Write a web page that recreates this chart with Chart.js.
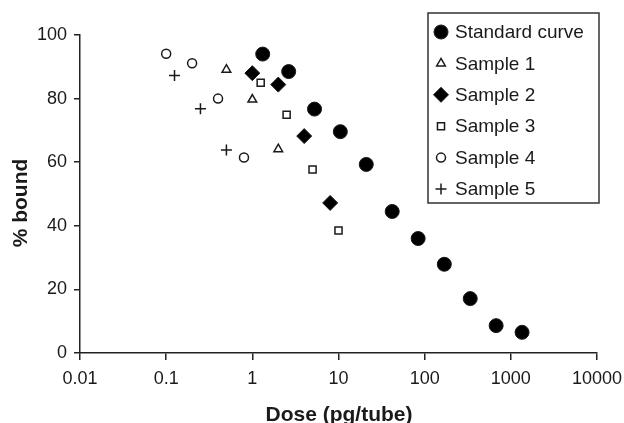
<!DOCTYPE html>
<html>
<head>
<meta charset="utf-8">
<script src="https://cdn.jsdelivr.net/npm/chart.js@4.4.1/dist/chart.umd.min.js"></script>
<style>
  html, body { margin: 0; padding: 0; background: #fff; }
  #wrap { width: 624px; height: 423px; }
</style>
</head>
<body>
<div id="wrap"><canvas id="chart" width="624" height="423"></canvas></div>
<script>
// Values
const seriesLabels = ["Standard curve", "Sample 1", "Sample 2", "Sample 3", "Sample 4", "Sample 5"];

const standardDose = [1.32, 2.64, 5.27, 10.5, 21, 42, 84, 169, 338, 675, 1350];
const standardBound = [94, 88.5, 76.7, 69.6, 59.3, 44.5, 36, 27.9, 17.1, 8.6, 6.5];

const sample1Dose = [0.5, 1, 2];
const sample1Bound = [89.1, 79.7, 64.1];

const sample2Dose = [1, 2, 4, 8];
const sample2Bound = [88, 84.4, 68.2, 47.2];

const sample3Dose = [1.25, 2.5, 5, 10];
const sample3Bound = [85, 74.9, 57.7, 38.5];

const sample4Dose = [0.1, 0.2, 0.4, 0.8];
const sample4Bound = [94.1, 91.1, 80, 61.5];

const sample5Dose = [0.125, 0.25, 0.5];
const sample5Bound = [87.3, 76.8, 63.8];

const xTicks = [0.01, 0.1, 1, 10, 100, 1000, 10000];
const xTickLabels = ["0.01", "0.1", "1", "10", "100", "1000", "10000"];
const yTicks = [0, 20, 40, 60, 80, 100];

const fontFamily = "'Liberation Sans', Arial, Helvetica, sans-serif";
const ink = "#1a1a1a";

function toPoints(xs, ys) {
    return xs.map((x, i) => ({ x: x, y: ys[i] }));
}

function makeDataset(label, xs, ys, style, radius, fill, borderWidth) {
    return {
        label: label,
        data: toPoints(xs, ys),
        pointStyle: style,
        pointRadius: radius,
        pointHoverRadius: radius,
        pointBackgroundColor: fill,
        pointBorderColor: ink,
        pointBorderWidth: borderWidth,
        showLine: false,
    };
}

const datasets = [
    makeDataset(seriesLabels[0], standardDose, standardBound, "circle", 7, "#000", 1),
    makeDataset(seriesLabels[1], sample1Dose, sample1Bound, "triangle", 5, "#fff", 1.5),
    makeDataset(seriesLabels[2], sample2Dose, sample2Bound, "rectRot", 7.5, "#000", 1),
    makeDataset(seriesLabels[3], sample3Dose, sample3Bound, "rect", 5, "#fff", 1.5),
    makeDataset(seriesLabels[4], sample4Dose, sample4Bound, "circle", 4.5, "#fff", 1.5),
    makeDataset(seriesLabels[5], sample5Dose, sample5Bound, "cross", 5.5, "#fff", 1.5),
];

// Axis titles and the boxed legend inside the plot
const annotations = {
    id: "annotations",
    afterDraw(chart) {
        const ctx = chart.ctx;
        ctx.save();
        ctx.fillStyle = ink;
        ctx.font = "bold 21px " + fontFamily;
        ctx.textAlign = "center";
        ctx.textBaseline = "alphabetic";
        ctx.fillText("Dose (pg/tube)", 339, 421);

        ctx.save();
        ctx.translate(27, 203);
        ctx.rotate(-Math.PI / 2);
        ctx.fillText("% bound", 0, 0);
        ctx.restore();

        // legend box
        ctx.strokeStyle = "#333";
        ctx.lineWidth = 1.5;
        ctx.strokeRect(428, 13, 171, 190);

        ctx.font = "19px " + fontFamily;
        ctx.textAlign = "left";
        ctx.textBaseline = "middle";
        chart.data.datasets.forEach((ds, i) => {
            const y = 32 + i * 31.4;
            ctx.fillStyle = ds.pointBackgroundColor;
            ctx.strokeStyle = ds.pointBorderColor;
            ctx.lineWidth = ds.pointBorderWidth;
            Chart.helpers.drawPoint(ctx, {
                pointStyle: ds.pointStyle,
                radius: ds.pointRadius,
                rotation: 0,
                borderWidth: ds.pointBorderWidth,
            }, 441, y);
            ctx.fillStyle = ink;
            ctx.fillText(ds.label, 455, y + 1);
        });
        ctx.restore();
    },
};

new Chart(document.getElementById("chart"), {
    type: "scatter",
    data: { datasets: datasets },
    options: {
        responsive: false,
        animation: false,
        layout: { padding: { left: 0, right: 27, top: 35, bottom: 0 } },
        plugins: {
            legend: { display: false },
            tooltip: { enabled: false },
        },
        scales: {
            x: {
                type: "logarithmic",
                position: "bottom",
                min: 0.01,
                max: 10000,
                afterBuildTicks: scale => { scale.ticks = xTicks.map(v => ({ value: v })); },
                afterFit: scale => {
                    scale.height = 70;
                    scale.paddingLeft = 0;
                    scale.paddingRight = 0;
                },
                ticks: {
                    autoSkip: false,
                    maxRotation: 0,
                    padding: 8,
                    color: ink,
                    font: { size: 18, family: fontFamily },
                    callback: (value, index) => xTickLabels[index],
                },
                grid: { drawOnChartArea: false, tickLength: 7, color: "#222", lineWidth: 1.5 },
                border: { color: "#222", width: 1.5 },
            },
            y: {
                min: 0,
                max: 100,
                afterBuildTicks: scale => { scale.ticks = yTicks.map(v => ({ value: v })); },
                afterFit: scale => { scale.width = 80; },
                ticks: {
                    padding: 7,
                    color: ink,
                    font: { size: 18, family: fontFamily },
                    callback: value => String(value),
                },
                grid: { drawOnChartArea: false, tickLength: 6, color: "#222", lineWidth: 1.5 },
                border: { color: "#222", width: 1.5 },
            },
        },
    },
    plugins: [annotations],
});
</script>
</body>
</html>
